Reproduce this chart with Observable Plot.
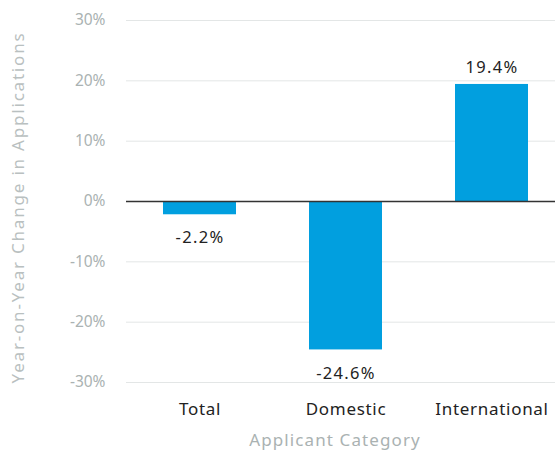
<!DOCTYPE html>
<html>
<head>
<meta charset="utf-8">
<script src="https://cdn.jsdelivr.net/npm/d3@7"></script>
<script src="https://cdn.jsdelivr.net/npm/@observablehq/plot@0.6"></script>
<style>
  html, body { margin: 0; padding: 0; background: #fff; overflow: hidden; }
  svg { display: block; }
</style>
</head>
<body>
<div id="chart"></div>
<script>
const categories = ["Total", "Domestic", "International"];
const changes = [-2.2, -24.6, 19.4];
const yTicks = [-30, -20, -10, 0, 10, 20, 30];
const yTitle = "Year-on-Year Change in Applications";
const xTitle = "Applicant Category";

const data = categories.map((c, i) => ({category: c, value: changes[i]}));
const fmt = v => `${v}%`;

const chart = Plot.plot({
  width: 555,
  height: 455,
  marginLeft: 126,
  marginRight: 0,
  marginTop: 20,
  marginBottom: 73,
  style: {fontFamily: "'Noto Sans', sans-serif", background: "#fff"},
  x: {domain: categories, range: [126, 565.5], paddingInner: 0.5, paddingOuter: 0.25},
  y: {domain: [-30, 30]},
  marks: [
    Plot.gridY(yTicks, {stroke: "#e3e6e6", strokeOpacity: 1, strokeWidth: 1}),
    Plot.axisY(yTicks, {
      tickSize: 0, tickPadding: 21, tickFormat: fmt,
      fill: "#aab2b2", fontSize: 15.5, label: null
    }),
    Plot.text([yTitle], {
      frameAnchor: "left", textAnchor: "middle", rotate: -90, dx: -108, dy: 6,
      fontSize: 17, fill: "#b9c0c0"
    }),
    Plot.barY(data, {x: "category", y: "value", fill: "#019fdf"}),
    Plot.ruleY([0], {stroke: "#333", strokeWidth: 1.3}),
    Plot.text(data.filter(d => d.value < 0), {
      x: "category", y: "value", text: d => fmt(d.value),
      lineAnchor: "top", dy: 17, fontSize: 16.5, fill: "#222"
    }),
    Plot.text(data.filter(d => d.value >= 0), {
      x: "category", y: "value", text: d => fmt(d.value),
      lineAnchor: "bottom", dy: -11, fontSize: 16.5, fill: "#222"
    }),
    Plot.axisX({
      tickSize: 0, tickPadding: 20, fontSize: 17, fill: "#222",
      label: null
    }),
    Plot.text([xTitle], {
      frameAnchor: "bottom", dy: 63, dx: -6, fontSize: 17, fill: "#aab2b2"
    })
  ]
});

// widen lettering to approach the reference's geometric face
chart.querySelectorAll("text").forEach(t => {
  const s = t.textContent;
  if (s === yTitle) t.style.letterSpacing = "1.8px";
  else if (s === xTitle) t.style.letterSpacing = "1.1px";
  else if (categories.includes(s)) t.style.letterSpacing = "0.7px";
  else if (changes.map(fmt).includes(s)) t.style.letterSpacing = "1.3px";
});

document.getElementById("chart").appendChild(chart);
</script>
</body>
</html>
